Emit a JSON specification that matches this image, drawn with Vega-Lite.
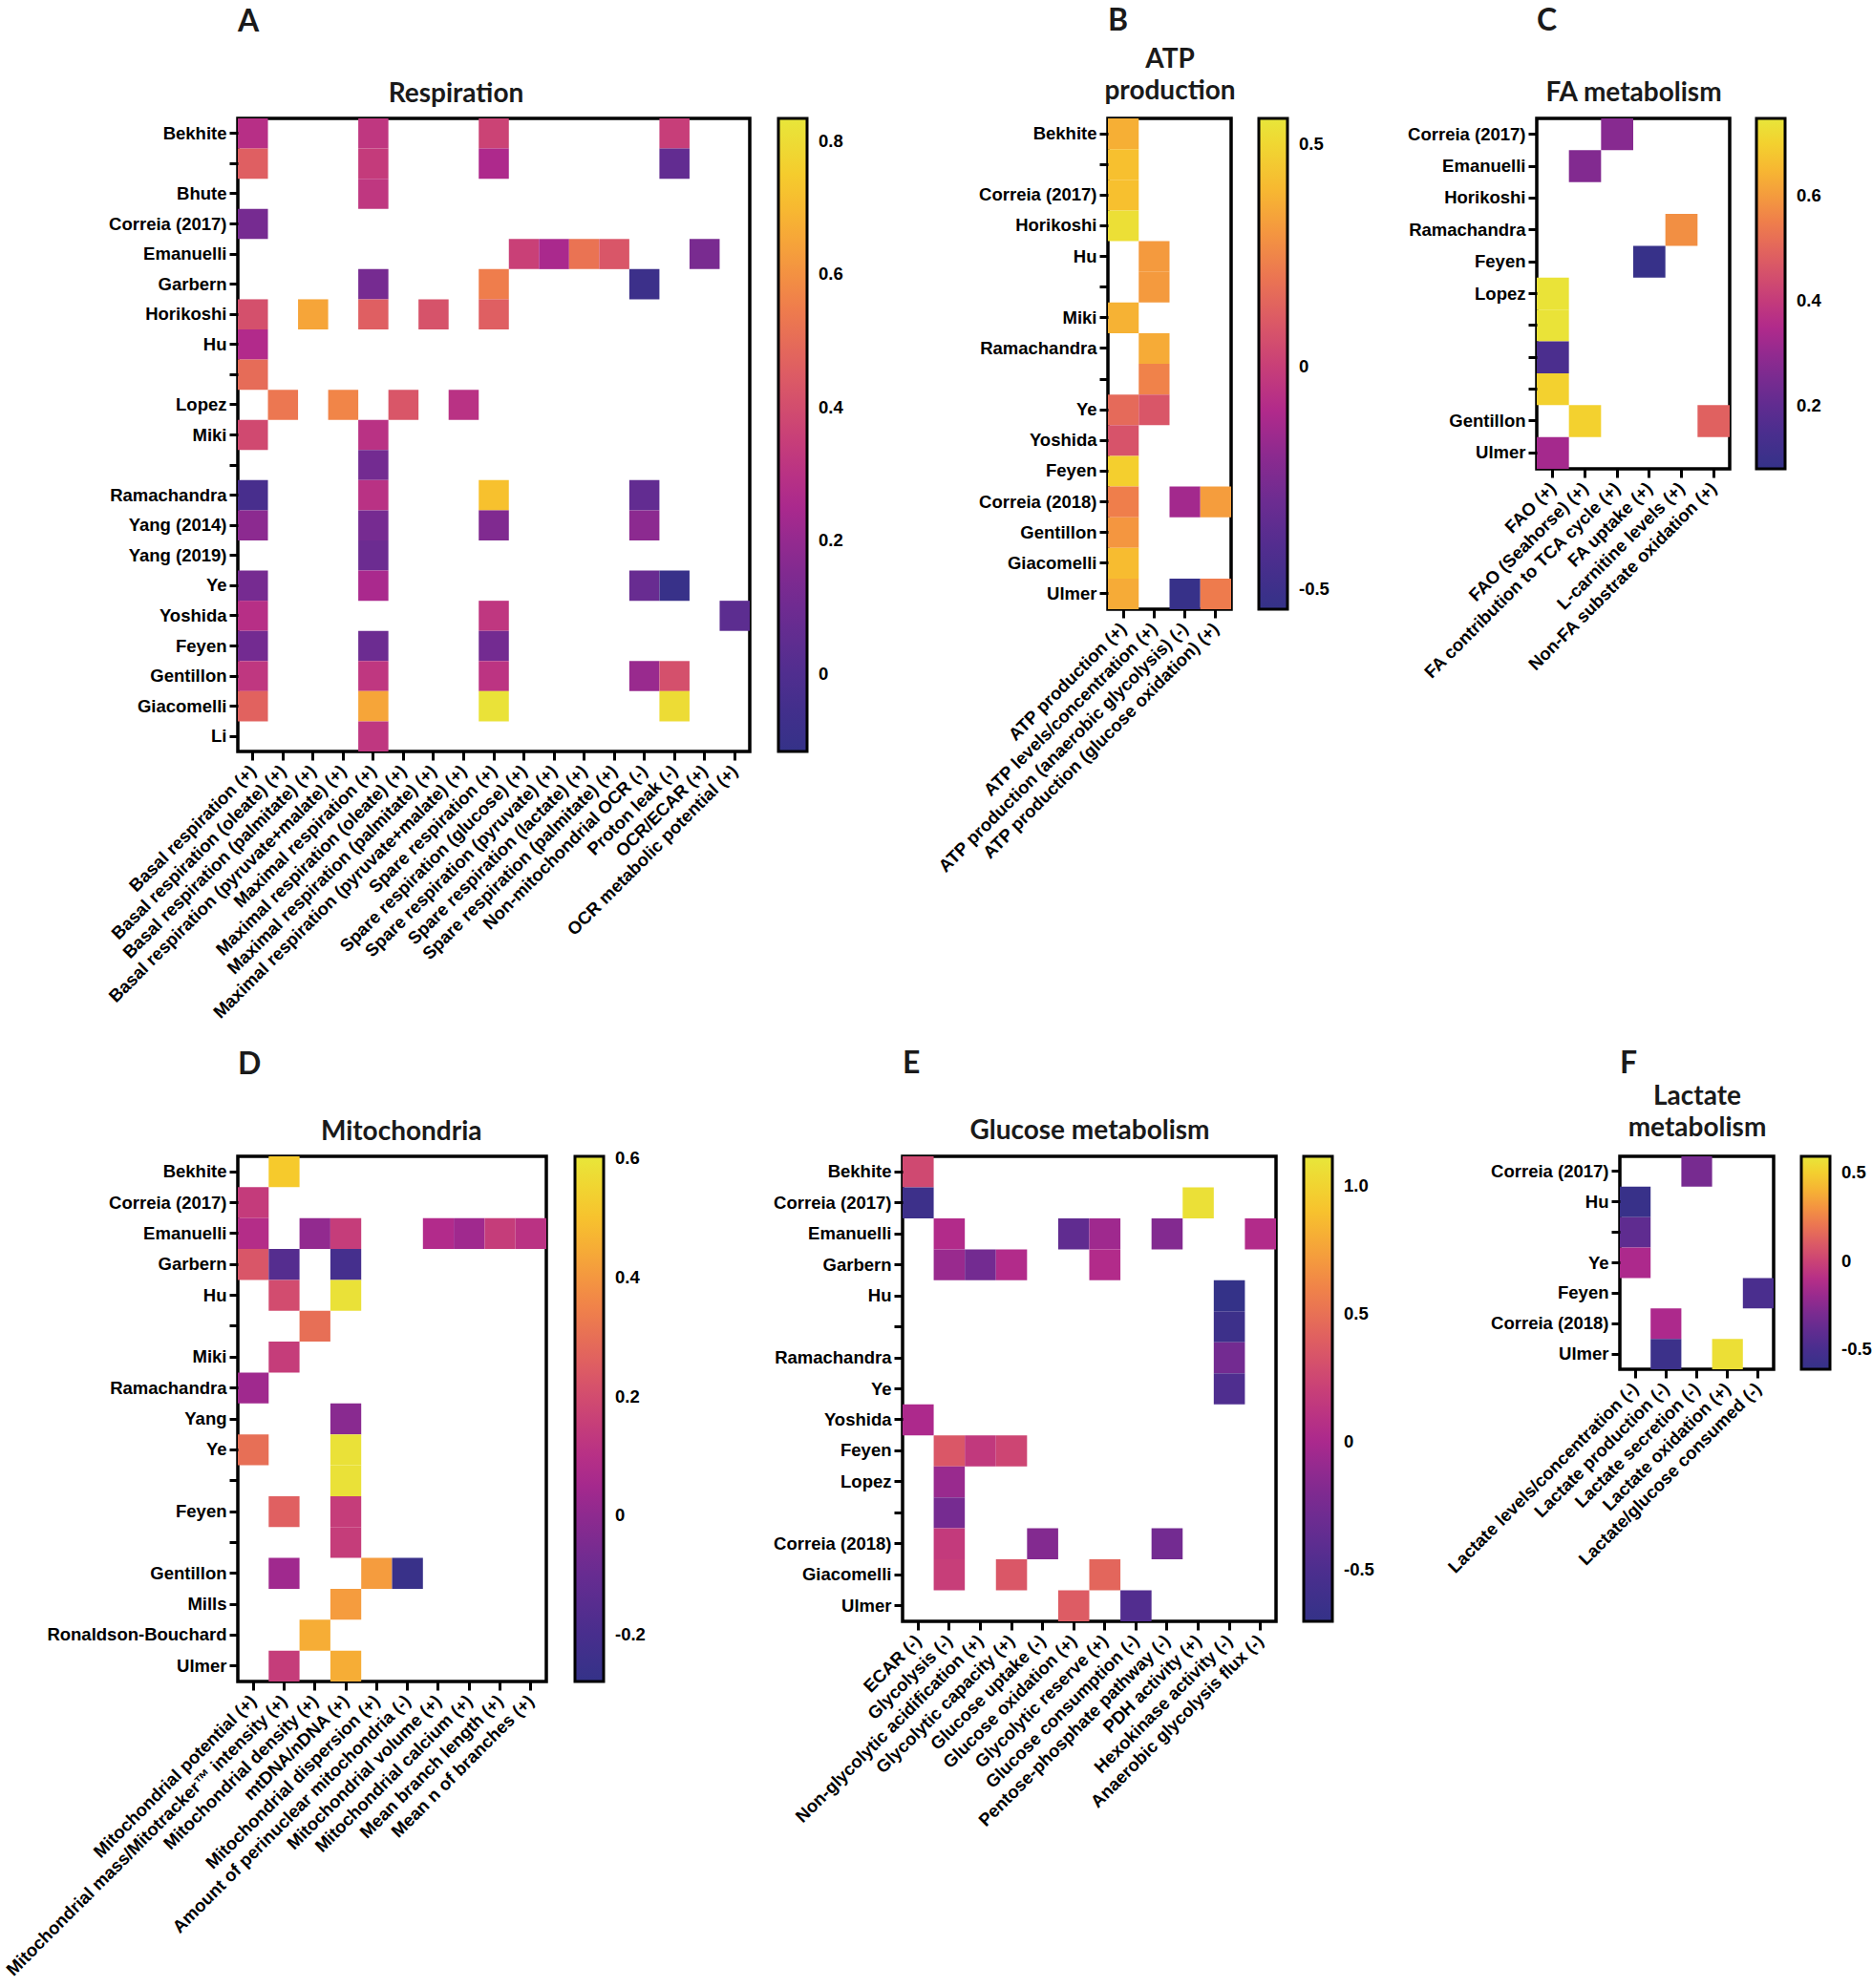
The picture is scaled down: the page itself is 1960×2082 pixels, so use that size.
{
"$schema": "https://vega.github.io/schema/vega-lite/v6.json",
"padding": {"left": 1, "top": 3, "right": 5, "bottom": 5},
"background": "white",
"config": {
  "view": {"stroke": "#000", "strokeWidth": 3.5},
  "axis": {"labelFont": "Liberation Sans", "labelFontWeight": "bold", "labelFontSize": 18.5, "labelColor": "#000", "tickColor": "#000", "tickWidth": 3, "tickSize": 9, "domain": false, "grid": false, "labelPadding": 3, "labelLimit": 1000, "labelOverlap": false, "titleFont": "Lato", "titleFontWeight": "bold", "titleFontSize": 28, "titleColor": "#1a1a1a", "titleLineHeight": 33},
  "legend": {"gradientThickness": 30, "gradientStrokeColor": "#000", "gradientStrokeWidth": 3, "labelFont": "Liberation Sans", "labelFontWeight": "bold", "labelFontSize": 18.5, "labelColor": "#000", "labelOffset": 12, "offset": 30, "padding": 0, "titlePadding": 0},
  "title": {"font": "Lato", "fontWeight": "bold", "fontSize": 32, "color": "#1a1a1a", "anchor": "start", "frame": "group"}
},
"spacing": 24,
"resolve": {"scale": {"color": "independent"}, "legend": {"color": "independent"}},
"vconcat": [
{"hconcat": [
{
 "width": 536, "height": 663,
 "title": {"text": "A", "offset": 44},
 "data": {"values": [
  {"study": "Bekhite", "measure": "Basal respiration (+)", "value": 0.29},
  {"study": "Bekhite", "measure": "Maximal respiration (+)", "value": 0.32},
  {"study": "Bekhite", "measure": "Spare respiration (+)", "value": 0.37},
  {"study": "Bekhite", "measure": "Proton leak (-)", "value": 0.35},
  {"study": " ", "measure": "Basal respiration (+)", "value": 0.46},
  {"study": " ", "measure": "Maximal respiration (+)", "value": 0.34},
  {"study": " ", "measure": "Spare respiration (+)", "value": 0.26},
  {"study": " ", "measure": "Proton leak (-)", "value": 0.06},
  {"study": "Bhute", "measure": "Maximal respiration (+)", "value": 0.32},
  {"study": "Correia (2017)", "measure": "Basal respiration (+)", "value": 0.12},
  {"study": "Emanuelli", "measure": "Spare respiration (glucose) (+)", "value": 0.36},
  {"study": "Emanuelli", "measure": "Spare respiration (pyruvate) (+)", "value": 0.25},
  {"study": "Emanuelli", "measure": "Spare respiration (lactate) (+)", "value": 0.52},
  {"study": "Emanuelli", "measure": "Spare respiration (palmitate) (+)", "value": 0.43},
  {"study": "Emanuelli", "measure": "OCR/ECAR (+)", "value": 0.13},
  {"study": "Garbern", "measure": "Maximal respiration (+)", "value": 0.12},
  {"study": "Garbern", "measure": "Spare respiration (+)", "value": 0.55},
  {"study": "Garbern", "measure": "Non-mitochondrial OCR (-)", "value": -0.08},
  {"study": "Horikoshi", "measure": "Basal respiration (+)", "value": 0.41},
  {"study": "Horikoshi", "measure": "Basal respiration (palmitate) (+)", "value": 0.65},
  {"study": "Horikoshi", "measure": "Maximal respiration (+)", "value": 0.46},
  {"study": "Horikoshi", "measure": "Maximal respiration (palmitate) (+)", "value": 0.42},
  {"study": "Horikoshi", "measure": "Spare respiration (+)", "value": 0.46},
  {"study": "Hu", "measure": "Basal respiration (+)", "value": 0.27},
  {"study": "  ", "measure": "Basal respiration (+)", "value": 0.5},
  {"study": "Lopez", "measure": "Basal respiration (oleate) (+)", "value": 0.53},
  {"study": "Lopez", "measure": "Basal respiration (pyruvate+malate) (+)", "value": 0.57},
  {"study": "Lopez", "measure": "Maximal respiration (oleate) (+)", "value": 0.43},
  {"study": "Lopez", "measure": "Maximal respiration (pyruvate+malate) (+)", "value": 0.3},
  {"study": "Miki", "measure": "Basal respiration (+)", "value": 0.39},
  {"study": "Miki", "measure": "Maximal respiration (+)", "value": 0.3},
  {"study": "   ", "measure": "Maximal respiration (+)", "value": 0.11},
  {"study": "Ramachandra", "measure": "Basal respiration (+)", "value": -0.03},
  {"study": "Ramachandra", "measure": "Maximal respiration (+)", "value": 0.3},
  {"study": "Ramachandra", "measure": "Spare respiration (+)", "value": 0.72},
  {"study": "Ramachandra", "measure": "Non-mitochondrial OCR (-)", "value": 0.06},
  {"study": "Yang (2014)", "measure": "Basal respiration (+)", "value": 0.18},
  {"study": "Yang (2014)", "measure": "Maximal respiration (+)", "value": 0.12},
  {"study": "Yang (2014)", "measure": "Spare respiration (+)", "value": 0.15},
  {"study": "Yang (2014)", "measure": "Non-mitochondrial OCR (-)", "value": 0.18},
  {"study": "Yang (2019)", "measure": "Maximal respiration (+)", "value": 0.09},
  {"study": "Ye", "measure": "Basal respiration (+)", "value": 0.12},
  {"study": "Ye", "measure": "Maximal respiration (+)", "value": 0.25},
  {"study": "Ye", "measure": "Non-mitochondrial OCR (-)", "value": 0.08},
  {"study": "Ye", "measure": "Proton leak (-)", "value": -0.1},
  {"study": "Yoshida", "measure": "Basal respiration (+)", "value": 0.29},
  {"study": "Yoshida", "measure": "Spare respiration (+)", "value": 0.32},
  {"study": "Yoshida", "measure": "OCR metabolic potential (+)", "value": 0.04},
  {"study": "Feyen", "measure": "Basal respiration (+)", "value": 0.11},
  {"study": "Feyen", "measure": "Maximal respiration (+)", "value": 0.09},
  {"study": "Feyen", "measure": "Spare respiration (+)", "value": 0.11},
  {"study": "Gentillon", "measure": "Basal respiration (+)", "value": 0.32},
  {"study": "Gentillon", "measure": "Maximal respiration (+)", "value": 0.32},
  {"study": "Gentillon", "measure": "Spare respiration (+)", "value": 0.31},
  {"study": "Gentillon", "measure": "Non-mitochondrial OCR (-)", "value": 0.21},
  {"study": "Gentillon", "measure": "Proton leak (-)", "value": 0.41},
  {"study": "Giacomelli", "measure": "Basal respiration (+)", "value": 0.47},
  {"study": "Giacomelli", "measure": "Maximal respiration (+)", "value": 0.65},
  {"study": "Giacomelli", "measure": "Spare respiration (+)", "value": 0.82},
  {"study": "Giacomelli", "measure": "Proton leak (-)", "value": 0.8},
  {"study": "Li", "measure": "Maximal respiration (+)", "value": 0.32}
 ]},
 "layer": [
  {"mark": "rect",
   "encoding": {
    "x": {"field": "measure", "type": "nominal", "scale": {"domain": ["Basal respiration (+)", "Basal respiration (oleate) (+)", "Basal respiration (palmitate) (+)", "Basal respiration (pyruvate+malate) (+)", "Maximal respiration (+)", "Maximal respiration (oleate) (+)", "Maximal respiration (palmitate) (+)", "Maximal respiration (pyruvate+malate) (+)", "Spare respiration (+)", "Spare respiration (glucose) (+)", "Spare respiration (pyruvate) (+)", "Spare respiration (lactate) (+)", "Spare respiration (palmitate) (+)", "Non-mitochondrial OCR (-)", "Proton leak (-)", "OCR/ECAR (+)", "OCR metabolic potential (+)"], "paddingInner": 0, "paddingOuter": 0}, "axis": {"orient": "bottom", "title": null, "labelAngle": -45, "labelAlign": "right", "labelBaseline": "middle", "labelPadding": 8}},
    "y": {"field": "study", "type": "nominal", "scale": {"domain": ["Bekhite", " ", "Bhute", "Correia (2017)", "Emanuelli", "Garbern", "Horikoshi", "Hu", "  ", "Lopez", "Miki", "   ", "Ramachandra", "Yang (2014)", "Yang (2019)", "Ye", "Yoshida", "Feyen", "Gentillon", "Giacomelli", "Li"], "paddingInner": 0, "paddingOuter": 0}, "axis": {"title": null}},
    "color": {"field": "value", "type": "quantitative", "scale": {"domain": [-0.116, -0.021, 0.074, 0.169, 0.264, 0.359, 0.454, 0.549, 0.644, 0.739, 0.834], "range": ["#343288", "#4a2e8e", "#662c91", "#872a90", "#b0298c", "#c94077", "#de5d63", "#ef7d4c", "#f6a33a", "#f7c92b", "#e8e63a"], "interpolate": "rgb"}, "legend": {"title": null, "gradientLength": 663, "offset": 30, "labelOffset": 12, "values": [0, 0.2, 0.4, 0.6, 0.8], "labelExpr": "datum.value < 0 ? '-' + format(-datum.value, '.1f') : (datum.value == 0 ? '0' : format(datum.value, '.1f'))"}}
   }},
  {"mark": {"type": "rect", "opacity": 0},
   "encoding": {"x": {"field": "measure", "type": "nominal", "axis": {"orient": "top", "title": "Respiration", "labels": false, "ticks": false, "domain": false, "titlePadding": 12, "titleX": 228, "titleAlign": "center"}}}}
 ],
 "resolve": {"axis": {"x": "independent"}}
},
{"width": 375, "height": 1, "data": {"values": []}, "mark": {"type": "point", "opacity": 0}, "view": {"stroke": null}},
{
 "width": 129, "height": 514,
 "title": {"text": "B", "offset": 9.6},
 "data": {"values": [
  {"study": "Bekhite", "measure": "ATP production (+)", "value": 0.37},
  {"study": " ", "measure": "ATP production (+)", "value": 0.42},
  {"study": "Correia (2017)", "measure": "ATP production (+)", "value": 0.42},
  {"study": "Horikoshi", "measure": "ATP production (+)", "value": 0.53},
  {"study": "Hu", "measure": "ATP levels/concentration (+)", "value": 0.31},
  {"study": "  ", "measure": "ATP levels/concentration (+)", "value": 0.31},
  {"study": "Miki", "measure": "ATP production (+)", "value": 0.38},
  {"study": "Ramachandra", "measure": "ATP levels/concentration (+)", "value": 0.36},
  {"study": "   ", "measure": "ATP levels/concentration (+)", "value": 0.24},
  {"study": "Ye", "measure": "ATP production (+)", "value": 0.16},
  {"study": "Ye", "measure": "ATP levels/concentration (+)", "value": 0.09},
  {"study": "Yoshida", "measure": "ATP production (+)", "value": 0.08},
  {"study": "Feyen", "measure": "ATP production (+)", "value": 0.47},
  {"study": "Correia (2018)", "measure": "ATP production (+)", "value": 0.23},
  {"study": "Correia (2018)", "measure": "ATP production (anaerobic glycolysis) (-)", "value": -0.14},
  {"study": "Correia (2018)", "measure": "ATP production (glucose oxidation) (+)", "value": 0.32},
  {"study": "Gentillon", "measure": "ATP production (+)", "value": 0.3},
  {"study": "Giacomelli", "measure": "ATP production (+)", "value": 0.41},
  {"study": "Ulmer", "measure": "ATP production (+)", "value": 0.36},
  {"study": "Ulmer", "measure": "ATP production (anaerobic glycolysis) (-)", "value": -0.53},
  {"study": "Ulmer", "measure": "ATP production (glucose oxidation) (+)", "value": 0.22}
 ]},
 "layer": [
  {"mark": "rect",
   "encoding": {
    "x": {"field": "measure", "type": "nominal", "scale": {"domain": ["ATP production (+)", "ATP levels/concentration (+)", "ATP production (anaerobic glycolysis) (-)", "ATP production (glucose oxidation) (+)"], "paddingInner": 0, "paddingOuter": 0}, "axis": {"orient": "bottom", "title": null, "labelAngle": -45, "labelAlign": "right", "labelBaseline": "middle", "labelPadding": 8}},
    "y": {"field": "study", "type": "nominal", "scale": {"domain": ["Bekhite", " ", "Correia (2017)", "Horikoshi", "Hu", "  ", "Miki", "Ramachandra", "   ", "Ye", "Yoshida", "Feyen", "Correia (2018)", "Gentillon", "Giacomelli", "Ulmer"], "paddingInner": 0, "paddingOuter": 0}, "axis": {"title": null}},
    "color": {"field": "value", "type": "quantitative", "scale": {"domain": [-0.545, -0.4348, -0.3246, -0.2144, -0.1042, 0.006, 0.1162, 0.2264, 0.3366, 0.4468, 0.557], "range": ["#343288", "#4a2e8e", "#662c91", "#872a90", "#b0298c", "#c94077", "#de5d63", "#ef7d4c", "#f6a33a", "#f7c92b", "#e8e63a"], "interpolate": "rgb"}, "legend": {"title": null, "gradientLength": 514, "offset": 29, "labelOffset": 12, "values": [-0.5, 0, 0.5], "labelExpr": "datum.value < 0 ? '-' + format(-datum.value, '.1f') : (datum.value == 0 ? '0' : format(datum.value, '.1f'))"}}
   }},
  {"mark": {"type": "rect", "opacity": 0},
   "encoding": {"x": {"field": "measure", "type": "nominal", "axis": {"orient": "top", "title": ["ATP", "production"], "labels": false, "ticks": false, "domain": false, "titlePadding": 14.7}}}}
 ],
 "resolve": {"axis": {"x": "independent"}}
},
{"width": 320, "height": 1, "data": {"values": []}, "mark": {"type": "point", "opacity": 0}, "view": {"stroke": null}},
{
 "width": 202, "height": 367,
 "title": {"text": "C", "offset": 44},
 "data": {"values": [
  {"study": "Correia (2017)", "measure": "FA contribution to TCA cycle (+)", "value": 0.28},
  {"study": "Emanuelli", "measure": "FAO (Seahorse) (+)", "value": 0.27},
  {"study": "Ramachandra", "measure": "L-carnitine levels (+)", "value": 0.58},
  {"study": "Feyen", "measure": "FA uptake (+)", "value": 0.09},
  {"study": "Lopez", "measure": "FAO (+)", "value": 0.74},
  {"study": " ", "measure": "FAO (+)", "value": 0.74},
  {"study": "  ", "measure": "FAO (+)", "value": 0.15},
  {"study": "   ", "measure": "FAO (+)", "value": 0.7},
  {"study": "Gentillon", "measure": "FAO (Seahorse) (+)", "value": 0.7},
  {"study": "Gentillon", "measure": "Non-FA substrate oxidation (+)", "value": 0.49},
  {"study": "Ulmer", "measure": "FAO (+)", "value": 0.33}
 ]},
 "layer": [
  {"mark": "rect",
   "encoding": {
    "x": {"field": "measure", "type": "nominal", "scale": {"domain": ["FAO (+)", "FAO (Seahorse) (+)", "FA contribution to TCA cycle (+)", "FA uptake (+)", "L-carnitine levels (+)", "Non-FA substrate oxidation (+)"], "paddingInner": 0, "paddingOuter": 0}, "axis": {"orient": "bottom", "title": null, "labelAngle": -45, "labelAlign": "right", "labelBaseline": "middle", "labelPadding": 8}},
    "y": {"field": "study", "type": "nominal", "scale": {"domain": ["Correia (2017)", "Emanuelli", "Horikoshi", "Ramachandra", "Feyen", "Lopez", " ", "  ", "   ", "Gentillon", "Ulmer"], "paddingInner": 0, "paddingOuter": 0}, "axis": {"title": null}},
    "color": {"field": "value", "type": "quantitative", "scale": {"domain": [0.08, 0.1468, 0.2136, 0.2804, 0.3472, 0.414, 0.4808, 0.5476, 0.6144, 0.6812, 0.748], "range": ["#343288", "#4a2e8e", "#662c91", "#872a90", "#b0298c", "#c94077", "#de5d63", "#ef7d4c", "#f6a33a", "#f7c92b", "#e8e63a"], "interpolate": "rgb"}, "legend": {"title": null, "gradientLength": 367, "offset": 28, "labelOffset": 12, "values": [0.2, 0.4, 0.6], "labelExpr": "datum.value < 0 ? '-' + format(-datum.value, '.1f') : (datum.value == 0 ? '0' : format(datum.value, '.1f'))"}}
   }},
  {"mark": {"type": "rect", "opacity": 0},
   "encoding": {"x": {"field": "measure", "type": "nominal", "axis": {"orient": "top", "title": "FA metabolism", "labels": false, "ticks": false, "domain": false, "titlePadding": 12.8}}}}
 ],
 "resolve": {"axis": {"x": "independent"}}
}
], "spacing": 0, "bounds": "flush", "resolve": {"scale": {"color": "independent"}, "legend": {"color": "independent"}}},
{"hconcat": [
{
 "width": 323, "height": 550,
 "title": {"text": "D", "offset": 38.8},
 "data": {"values": [
  {"study": "Bekhite", "measure": "Mitochondrial mass/Mitotracker™ intensity (+)", "value": 0.52},
  {"study": "Correia (2017)", "measure": "Mitochondrial potential (+)", "value": 0.145},
  {"study": "Emanuelli", "measure": "Mitochondrial potential (+)", "value": 0.09},
  {"study": "Emanuelli", "measure": "Mitochondrial density (+)", "value": 0.01},
  {"study": "Emanuelli", "measure": "mtDNA/nDNA (+)", "value": 0.15},
  {"study": "Emanuelli", "measure": "Mitochondrial volume (+)", "value": 0.08},
  {"study": "Emanuelli", "measure": "Mitochondrial calcium (+)", "value": 0.04},
  {"study": "Emanuelli", "measure": "Mean branch length (+)", "value": 0.15},
  {"study": "Emanuelli", "measure": "Mean n of branches (+)", "value": 0.11},
  {"study": "Garbern", "measure": "Mitochondrial potential (+)", "value": 0.23},
  {"study": "Garbern", "measure": "Mitochondrial mass/Mitotracker™ intensity (+)", "value": -0.155},
  {"study": "Garbern", "measure": "mtDNA/nDNA (+)", "value": -0.21},
  {"study": "Hu", "measure": "Mitochondrial mass/Mitotracker™ intensity (+)", "value": 0.2},
  {"study": "Hu", "measure": "mtDNA/nDNA (+)", "value": 0.59},
  {"study": " ", "measure": "Mitochondrial density (+)", "value": 0.3},
  {"study": "Miki", "measure": "Mitochondrial mass/Mitotracker™ intensity (+)", "value": 0.15},
  {"study": "Ramachandra", "measure": "Mitochondrial potential (+)", "value": 0.04},
  {"study": "Yang", "measure": "mtDNA/nDNA (+)", "value": -0.01},
  {"study": "Ye", "measure": "Mitochondrial potential (+)", "value": 0.3},
  {"study": "Ye", "measure": "mtDNA/nDNA (+)", "value": 0.59},
  {"study": "  ", "measure": "mtDNA/nDNA (+)", "value": 0.59},
  {"study": "Feyen", "measure": "Mitochondrial mass/Mitotracker™ intensity (+)", "value": 0.26},
  {"study": "Feyen", "measure": "mtDNA/nDNA (+)", "value": 0.15},
  {"study": "   ", "measure": "mtDNA/nDNA (+)", "value": 0.15},
  {"study": "Gentillon", "measure": "Mitochondrial mass/Mitotracker™ intensity (+)", "value": 0.04},
  {"study": "Gentillon", "measure": "Mitochondrial dispersion (+)", "value": 0.41},
  {"study": "Gentillon", "measure": "Amount of perinuclear mitochondria (-)", "value": -0.26},
  {"study": "Mills", "measure": "mtDNA/nDNA (+)", "value": 0.41},
  {"study": "Ronaldson-Bouchard", "measure": "Mitochondrial density (+)", "value": 0.45},
  {"study": "Ulmer", "measure": "Mitochondrial mass/Mitotracker™ intensity (+)", "value": 0.15},
  {"study": "Ulmer", "measure": "mtDNA/nDNA (+)", "value": 0.45}
 ]},
 "layer": [
  {"mark": "rect",
   "encoding": {
    "x": {"field": "measure", "type": "nominal", "scale": {"domain": ["Mitochondrial potential (+)", "Mitochondrial mass/Mitotracker™ intensity (+)", "Mitochondrial density (+)", "mtDNA/nDNA (+)", "Mitochondrial dispersion (+)", "Amount of perinuclear mitochondria (-)", "Mitochondrial volume (+)", "Mitochondrial calcium (+)", "Mean branch length (+)", "Mean n of branches (+)"], "paddingInner": 0, "paddingOuter": 0}, "axis": {"orient": "bottom", "title": null, "labelAngle": -45, "labelAlign": "right", "labelBaseline": "middle", "labelPadding": 8}},
    "y": {"field": "study", "type": "nominal", "scale": {"domain": ["Bekhite", "Correia (2017)", "Emanuelli", "Garbern", "Hu", " ", "Miki", "Ramachandra", "Yang", "Ye", "  ", "Feyen", "   ", "Gentillon", "Mills", "Ronaldson-Bouchard", "Ulmer"], "paddingInner": 0, "paddingOuter": 0}, "axis": {"title": null}},
    "color": {"field": "value", "type": "quantitative", "scale": {"domain": [-0.279, -0.1907, -0.1024, -0.0141, 0.0742, 0.1625, 0.2508, 0.3391, 0.4274, 0.5157, 0.604], "range": ["#343288", "#4a2e8e", "#662c91", "#872a90", "#b0298c", "#c94077", "#de5d63", "#ef7d4c", "#f6a33a", "#f7c92b", "#e8e63a"], "interpolate": "rgb"}, "legend": {"title": null, "gradientLength": 550, "offset": 30, "labelOffset": 12, "values": [-0.2, 0, 0.2, 0.4, 0.6], "labelExpr": "datum.value < 0 ? '-' + format(-datum.value, '.1f') : (datum.value == 0 ? '0' : format(datum.value, '.1f'))"}}
   }},
  {"mark": {"type": "rect", "opacity": 0},
   "encoding": {"x": {"field": "measure", "type": "nominal", "axis": {"orient": "top", "title": "Mitochondria", "labels": false, "ticks": false, "domain": false, "titlePadding": 11.8, "titleX": 170.7, "titleAlign": "center"}}}}
 ],
 "resolve": {"axis": {"x": "independent"}}
},
{"width": 373, "height": 1, "data": {"values": []}, "mark": {"type": "point", "opacity": 0}, "view": {"stroke": null}},
{
 "width": 391, "height": 487,
 "title": {"text": "E", "offset": 39.3},
 "data": {"values": [
  {"study": "Bekhite", "measure": "ECAR (-)", "value": 0.26},
  {"study": "Correia (2017)", "measure": "ECAR (-)", "value": -0.63},
  {"study": "Correia (2017)", "measure": "PDH activity (+)", "value": 1.08},
  {"study": "Emanuelli", "measure": "Glycolysis (-)", "value": 0.04},
  {"study": "Emanuelli", "measure": "Glucose oxidation (+)", "value": -0.38},
  {"study": "Emanuelli", "measure": "Glycolytic reserve (+)", "value": -0.05},
  {"study": "Emanuelli", "measure": "Pentose-phosphate pathway (-)", "value": -0.18},
  {"study": "Emanuelli", "measure": "Anaerobic glycolysis flux (-)", "value": 0.04},
  {"study": "Garbern", "measure": "Glycolysis (-)", "value": -0.08},
  {"study": "Garbern", "measure": "Non-glycolytic acidification (+)", "value": -0.27},
  {"study": "Garbern", "measure": "Glycolytic capacity (+)", "value": 0.04},
  {"study": "Garbern", "measure": "Glycolytic reserve (+)", "value": 0.04},
  {"study": "Hu", "measure": "Hexokinase activity (-)", "value": -0.7},
  {"study": " ", "measure": "Hexokinase activity (-)", "value": -0.63},
  {"study": "Ramachandra", "measure": "Hexokinase activity (-)", "value": -0.27},
  {"study": "Ye", "measure": "Hexokinase activity (-)", "value": -0.49},
  {"study": "Yoshida", "measure": "ECAR (-)", "value": 0.01},
  {"study": "Feyen", "measure": "Glycolysis (-)", "value": 0.35},
  {"study": "Feyen", "measure": "Non-glycolytic acidification (+)", "value": 0.15},
  {"study": "Feyen", "measure": "Glycolytic capacity (+)", "value": 0.24},
  {"study": "Lopez", "measure": "Glycolysis (-)", "value": -0.08},
  {"study": "  ", "measure": "Glycolysis (-)", "value": -0.25},
  {"study": "Correia (2018)", "measure": "Glycolysis (-)", "value": 0.16},
  {"study": "Correia (2018)", "measure": "Glucose uptake (-)", "value": -0.18},
  {"study": "Correia (2018)", "measure": "Pentose-phosphate pathway (-)", "value": -0.27},
  {"study": "Giacomelli", "measure": "Glycolysis (-)", "value": 0.19},
  {"study": "Giacomelli", "measure": "Glycolytic capacity (+)", "value": 0.35},
  {"study": "Giacomelli", "measure": "Glycolytic reserve (+)", "value": 0.44},
  {"study": "Ulmer", "measure": "Glucose oxidation (+)", "value": 0.38},
  {"study": "Ulmer", "measure": "Glucose consumption (-)", "value": -0.47}
 ]},
 "layer": [
  {"mark": "rect",
   "encoding": {
    "x": {"field": "measure", "type": "nominal", "scale": {"domain": ["ECAR (-)", "Glycolysis (-)", "Non-glycolytic acidification (+)", "Glycolytic capacity (+)", "Glucose uptake (-)", "Glucose oxidation (+)", "Glycolytic reserve (+)", "Glucose consumption (-)", "Pentose-phosphate pathway (-)", "PDH activity (+)", "Hexokinase activity (-)", "Anaerobic glycolysis flux (-)"], "paddingInner": 0, "paddingOuter": 0}, "axis": {"orient": "bottom", "title": null, "labelAngle": -45, "labelAlign": "right", "labelBaseline": "middle", "labelPadding": 8}},
    "y": {"field": "study", "type": "nominal", "scale": {"domain": ["Bekhite", "Correia (2017)", "Emanuelli", "Garbern", "Hu", " ", "Ramachandra", "Ye", "Yoshida", "Feyen", "Lopez", "  ", "Correia (2018)", "Giacomelli", "Ulmer"], "paddingInner": 0, "paddingOuter": 0}, "axis": {"title": null}},
    "color": {"field": "value", "type": "quantitative", "scale": {"domain": [-0.703, -0.5212, -0.3394, -0.1576, 0.0242, 0.206, 0.3878, 0.5696, 0.7514, 0.9332, 1.115], "range": ["#343288", "#4a2e8e", "#662c91", "#872a90", "#b0298c", "#c94077", "#de5d63", "#ef7d4c", "#f6a33a", "#f7c92b", "#e8e63a"], "interpolate": "rgb"}, "legend": {"title": null, "gradientLength": 487, "offset": 29, "labelOffset": 12, "values": [-0.5, 0, 0.5, 1], "labelExpr": "datum.value < 0 ? '-' + format(-datum.value, '.1f') : (datum.value == 0 ? '0' : format(datum.value, '.1f'))"}}
   }},
  {"mark": {"type": "rect", "opacity": 0},
   "encoding": {"x": {"field": "measure", "type": "nominal", "axis": {"orient": "top", "title": "Glucose metabolism", "labels": false, "ticks": false, "domain": false, "titlePadding": 12.3}}}}
 ],
 "resolve": {"axis": {"x": "independent"}}
},
{"width": 360, "height": 1, "data": {"values": []}, "mark": {"type": "point", "opacity": 0}, "view": {"stroke": null}},
{
 "width": 161, "height": 223,
 "title": {"text": "F", "offset": 3.3},
 "data": {"values": [
  {"study": "Correia (2017)", "measure": "Lactate secretion (-)", "value": -0.31},
  {"study": "Hu", "measure": "Lactate levels/concentration (-)", "value": -0.59},
  {"study": " ", "measure": "Lactate levels/concentration (-)", "value": -0.4},
  {"study": "Ye", "measure": "Lactate levels/concentration (-)", "value": -0.14},
  {"study": "Feyen", "measure": "Lactate/glucose consumed (-)", "value": -0.49},
  {"study": "Correia (2018)", "measure": "Lactate production (-)", "value": -0.14},
  {"study": "Ulmer", "measure": "Lactate production (-)", "value": -0.57},
  {"study": "Ulmer", "measure": "Lactate oxidation (+)", "value": 0.56}
 ]},
 "layer": [
  {"mark": "rect",
   "encoding": {
    "x": {"field": "measure", "type": "nominal", "scale": {"domain": ["Lactate levels/concentration (-)", "Lactate production (-)", "Lactate secretion (-)", "Lactate oxidation (+)", "Lactate/glucose consumed (-)"], "paddingInner": 0, "paddingOuter": 0}, "axis": {"orient": "bottom", "title": null, "labelAngle": -45, "labelAlign": "right", "labelBaseline": "middle", "labelPadding": 8}},
    "y": {"field": "study", "type": "nominal", "scale": {"domain": ["Correia (2017)", "Hu", " ", "Ye", "Feyen", "Correia (2018)", "Ulmer"], "paddingInner": 0, "paddingOuter": 0}, "axis": {"title": null}},
    "color": {"field": "value", "type": "quantitative", "scale": {"domain": [-0.611, -0.4909, -0.3708, -0.2507, -0.1306, -0.0105, 0.1096, 0.2297, 0.3498, 0.4699, 0.59], "range": ["#343288", "#4a2e8e", "#662c91", "#872a90", "#b0298c", "#c94077", "#de5d63", "#ef7d4c", "#f6a33a", "#f7c92b", "#e8e63a"], "interpolate": "rgb"}, "legend": {"title": null, "gradientLength": 223, "offset": 29, "labelOffset": 12, "values": [-0.5, 0, 0.5], "labelExpr": "datum.value < 0 ? '-' + format(-datum.value, '.1f') : (datum.value == 0 ? '0' : format(datum.value, '.1f'))"}}
   }},
  {"mark": {"type": "rect", "opacity": 0},
   "encoding": {"x": {"field": "measure", "type": "nominal", "axis": {"orient": "top", "title": ["Lactate", "metabolism"], "labels": false, "ticks": false, "domain": false, "titlePadding": 15, "titleLineHeight": 33.3}}}}
 ],
 "resolve": {"axis": {"x": "independent"}}
}
], "spacing": 0, "bounds": "flush", "resolve": {"scale": {"color": "independent"}, "legend": {"color": "independent"}}}
]
}
